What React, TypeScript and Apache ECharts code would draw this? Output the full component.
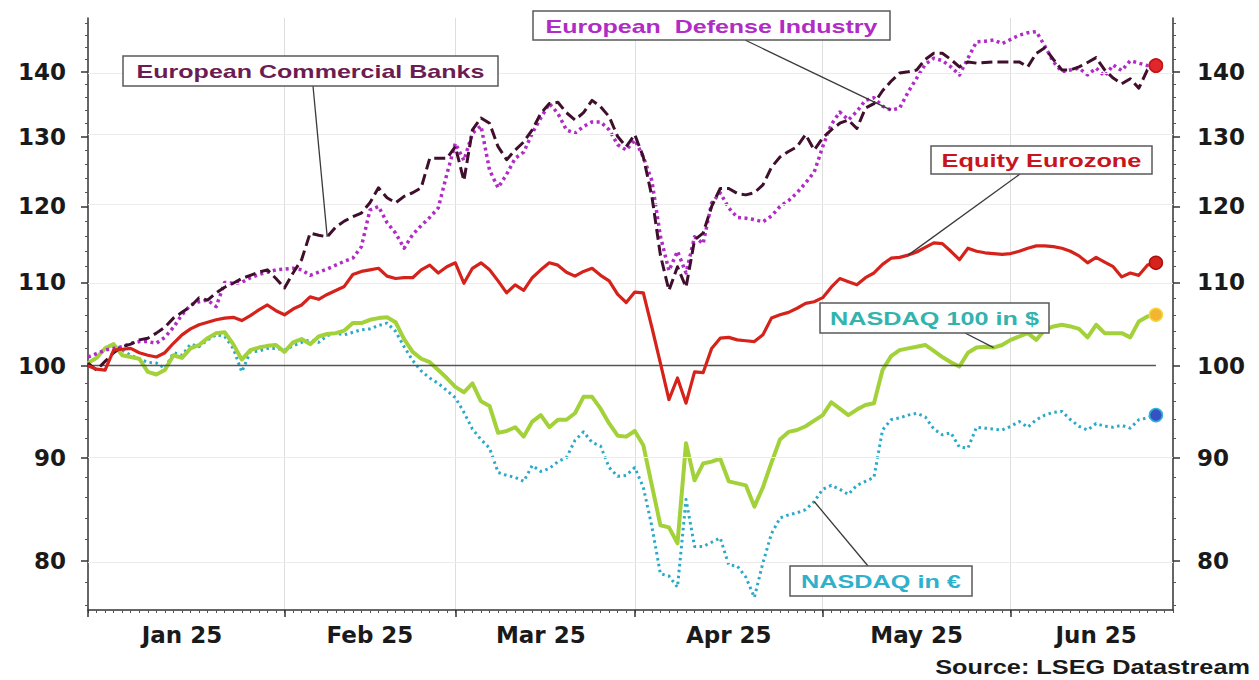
import React, { useEffect, useRef } from "react";
import * as echarts from "echarts";

// ---------- data (index values, Jan 1 2025 = 100) ----------
const banks = [
  100.3, 99.5, 100.5, 101.5, 102.2, 102.5, 103.0, 103.2, 103.8, 104.5,
  105.6, 106.3, 107.0, 108.1, 107.8, 108.7, 109.4, 109.9, 110.5, 110.9,
  111.3, 111.6, 110.5, 109.3, 111.2, 112.9, 116.4, 116.1, 115.9, 117.2,
  118.0, 118.6, 119.1, 120.5, 122.6, 121.2, 120.5, 121.4, 121.9, 122.6,
  126.8, 126.8, 126.8, 128.5, 123.6, 131.0, 132.8, 132.0, 128.5, 126.6,
  128.0, 129.2, 131.0, 133.5, 135.0, 135.2, 133.6, 132.5, 133.6, 135.5,
  134.5, 133.0, 130.0, 128.5, 130.3, 127.0, 121.4, 113.5, 109.0, 112.0,
  109.4, 115.5, 116.4, 120.0, 122.5, 122.5, 121.8, 121.6, 121.9, 123.0,
  125.5, 127.0, 127.8, 128.5, 130.3, 128.0, 129.8, 131.0, 132.0, 132.5,
  131.2, 134.3, 135.0, 137.0, 138.5, 139.8, 140.0, 140.3, 142.0, 143.0,
  143.0, 142.0, 140.8, 141.6, 141.4, 141.5, 141.6, 141.6, 141.6, 141.6,
  140.8, 143.0, 143.9, 142.0, 140.3, 140.3, 140.8, 141.5, 142.3, 140.3,
  139.0, 138.1, 138.9, 137.4, 140.3, 141.0,
];
const defense = [
  101.0, 101.4, 101.8, 102.0, 102.2, 102.6, 102.8, 102.8, 102.6, 103.3,
  104.5, 106.0, 107.2, 107.6, 107.8, 107.0, 110.0, 109.9, 110.0, 110.6,
  111.0, 111.3, 111.6, 111.7, 111.8, 111.6, 110.9, 111.3, 111.7, 112.2,
  112.7, 113.1, 114.6, 119.5, 120.0, 117.8, 116.4, 114.4, 116.2, 117.4,
  118.5, 119.8, 124.5, 129.0, 126.5, 130.5, 131.6, 125.1, 122.6, 124.5,
  126.8, 127.7, 130.5, 132.8, 135.0, 133.5, 131.0, 130.5, 131.5, 132.2,
  132.2, 131.0, 128.8, 128.0, 129.5, 127.0, 123.6, 116.0, 111.5, 114.0,
  111.2, 115.9, 115.0, 120.5, 121.9, 119.8, 118.5, 118.4, 118.2, 117.9,
  118.7, 120.0, 120.8, 121.9, 123.3, 124.8, 128.5, 131.8, 133.7, 132.5,
  133.8, 135.5, 135.9, 134.6, 134.0, 134.3, 136.8, 139.0, 141.2, 142.2,
  141.8, 140.8, 139.5, 142.2, 144.9, 145.0, 145.2, 144.6, 145.3, 146.0,
  146.4, 146.6, 144.2, 141.6, 140.0, 140.3, 140.6, 139.5, 140.6, 139.3,
  141.1, 140.2, 141.8, 141.4, 141.0, 141.0,
];
const equity = [
  100.0, 99.6, 99.5, 101.8, 101.9, 102.0, 101.5, 101.2, 101.0, 101.5,
  102.6, 103.6, 104.3, 104.8, 105.1, 105.4, 105.6, 105.7, 105.3, 105.9,
  106.6, 107.2, 106.5, 106.0, 106.7, 107.2, 108.2, 107.9, 108.5, 109.0,
  109.5, 111.0, 111.4, 111.6, 111.8, 110.8, 110.5, 110.6, 110.6, 111.6,
  112.2, 111.2, 112.0, 112.5, 109.9, 111.8, 112.5, 111.6, 110.2, 108.7,
  109.7, 109.0, 110.6, 111.6, 112.5, 112.2, 111.3, 110.8, 111.4, 111.8,
  110.9, 110.2, 108.5, 107.5, 108.8, 108.7, 104.5, 100.3, 96.2, 98.6,
  95.8, 99.3, 99.2, 102.0, 103.2, 103.3, 103.0, 102.9, 102.8, 103.6,
  105.6, 106.0, 106.3, 106.8, 107.4, 107.6, 108.1, 109.4, 110.5, 110.1,
  109.7, 110.6, 111.2, 112.3, 113.1, 113.2, 113.5, 113.9, 114.5, 115.1,
  115.0, 114.0, 112.9, 114.4, 114.0, 113.8, 113.7, 113.6, 113.7, 114.0,
  114.4, 114.7, 114.7, 114.6, 114.4, 114.0, 113.4, 112.5, 113.2, 112.6,
  112.0, 110.7, 111.2, 110.9, 112.2, 112.5,
];
const nasdaqUsd = [
  100.3, 100.9, 102.0, 102.5, 101.2, 101.0, 100.8, 99.3, 99.0, 99.5,
  101.2, 100.9, 102.0, 102.4, 103.2, 103.8, 103.9, 102.5, 100.7, 101.8,
  102.1, 102.3, 102.4, 101.6, 102.7, 103.1, 102.5, 103.4, 103.7, 103.8,
  104.1, 105.0, 105.0, 105.4, 105.6, 105.7, 105.1, 103.1, 101.6, 100.8,
  100.4, 99.5, 98.6, 97.6, 97.0, 98.0, 96.0, 95.5, 92.6, 92.8,
  93.2, 92.2, 93.8, 94.5, 93.2, 94.0, 94.0, 94.7, 96.5, 96.5,
  95.2, 93.6, 92.3, 92.2, 92.8, 91.3, 87.2, 83.3, 83.1, 81.6,
  91.5, 87.7, 89.4, 89.6, 89.9, 87.6, 87.4, 87.2, 85.1, 87.0,
  89.5, 91.9, 92.7, 92.9, 93.3, 93.9, 94.5, 95.9, 95.2, 94.5,
  95.1, 95.6, 95.8, 99.5, 101.1, 101.8, 102.0, 102.2, 102.4, 101.7,
  101.0, 100.4, 99.9, 101.5, 102.1, 102.2, 102.1, 102.4, 103.0, 103.4,
  103.8, 103.0, 104.2, 104.6, 104.8, 104.6, 104.3, 103.3, 104.8, 103.8,
  103.8, 103.8, 103.3, 105.2, 105.8, 106.0,
];
const nasdaqEur = [
  100.3, 100.9, 102.0, 102.4, 101.8, 101.2, 100.8, 100.4, 100.3, 99.7,
  101.5, 101.2, 102.5, 102.2, 103.0, 103.6, 103.4, 102.0, 99.3, 101.6,
  101.7, 102.0, 102.0, 101.8, 102.3, 102.7, 103.0, 102.7, 103.5, 103.8,
  103.6, 103.9, 104.2, 104.3, 104.7, 105.0, 104.0, 102.2, 100.6, 99.4,
  98.6, 98.0, 97.2, 96.4, 94.8, 93.0, 91.9, 91.0, 88.5, 88.2,
  88.0, 87.6, 89.2, 88.6, 88.9, 89.6, 90.0, 91.8, 92.7, 91.6,
  91.2, 89.0, 88.1, 88.2, 89.0, 87.0, 83.2, 78.8, 78.6, 77.6,
  85.8, 81.3, 81.3, 81.7, 82.1, 79.6, 79.5, 78.5, 76.7, 79.8,
  82.5, 84.0, 84.3, 84.5, 84.8, 85.6, 86.8, 87.2, 86.8, 86.3,
  87.2, 87.6, 88.0, 92.9, 94.0, 94.2, 94.5, 94.7, 94.3, 93.0,
  92.4, 92.6, 91.1, 91.0, 93.2, 93.1, 93.0, 92.9, 93.3, 93.8,
  93.2, 94.0, 94.5, 94.8, 94.9, 94.0, 93.3, 92.9, 93.6, 93.3,
  93.2, 93.4, 93.1, 94.0, 94.2, 94.5,
];

const yTicks = [80, 90, 100, 110, 120, 130, 140];
const yMinorTicks = [
  76, 78, 82, 84, 86, 88, 92, 94, 96, 98, 102, 104, 106, 108, 112, 114, 116, 118,
  122, 124, 126, 128, 132, 134, 136, 138, 142, 144, 146, 148,
];
const yMin = 75.6;
const yMax = 148.9;
const baseLevel = 100;
const monthLabels = ["Jan 25", "Feb 25", "Mar 25", "Apr 25", "May 25", "Jun 25"];
const seriesNames = [
  "European Commercial Banks",
  "European  Defense Industry",
  "Equity Eurozone",
  "NASDAQ 100 in $",
  "NASDAQ in €",
];
const sourceText = "Source: LSEG Datastream";

// business-day categories, Jan 1 2025 .. Jun 27 2025
function businessDays(start: string, end: string): string[] {
  const out: string[] = [];
  const d = new Date(start + "T00:00:00Z");
  const e = new Date(end + "T00:00:00Z");
  while (d <= e) {
    const wd = d.getUTCDay();
    if (wd !== 0 && wd !== 6) out.push(d.toISOString().slice(0, 10));
    d.setUTCDate(d.getUTCDate() + 1);
  }
  return out;
}
const categories = businessDays("2025-01-01", "2025-06-27");

const L = Math.log;

export default function App() {
  const ref = useRef<HTMLDivElement>(null);

  useEffect(() => {
    if (!ref.current) return;
    const chart = echarts.init(ref.current, null, { renderer: "svg" });

    // month starts and mid-month label positions
    const monthStart: number[] = [];
    categories.forEach((c, i) => {
      if (i === 0 || c.slice(5, 7) !== categories[i - 1].slice(5, 7)) monthStart.push(i);
    });
    const labelIdx = monthStart.map((s, k) => {
      const next = k + 1 < monthStart.length ? monthStart[k + 1] : categories.length;
      return Math.floor((s + next) / 2);
    });

    const tickFont = {
      fontFamily: "DejaVu Sans",
      fontWeight: "bold" as const,
      fontSize: 23,
      color: "#1a1a1a",
    };

    const yBase = {
      type: "value" as const,
      min: L(yMin),
      max: L(yMax),
      splitLine: { show: false },
    };
    const majorAxis = (position: "left" | "right", margin: number) => ({
      ...yBase,
      position,
      axisLine: { show: true, lineStyle: { color: "#333", width: 1.5 } },
      axisTick: {
        show: true,
        customValues: yTicks.map(L),
        length: 7,
        lineStyle: { color: "#333", width: 1.5 },
      },
      axisLabel: {
        ...tickFont,
        margin,
        customValues: yTicks.map(L),
        formatter: (v: number) => String(Math.round(Math.exp(v))),
      },
    });
    const minorAxis = (position: "left" | "right") => ({
      ...yBase,
      position,
      axisLine: { show: false },
      axisTick: {
        show: true,
        customValues: yMinorTicks.map(L),
        length: 3,
        lineStyle: { color: "#555", width: 1 },
      },
      axisLabel: { show: false },
    });

    const mk = (
      name: string,
      arr: number[],
      color: string,
      type: any,
      width: number,
      marker: { color: string; border: string } | null,
      z: number
    ) => ({
      name,
      type: "line",
      xAxisIndex: 0,
      yAxisIndex: 0,
      data: arr.map((v, i) =>
        i === arr.length - 1 && marker
          ? {
              value: L(v),
              symbol: "circle",
              symbolSize: 13,
              itemStyle: { color: marker.color, borderColor: marker.border, borderWidth: 1.5 },
            }
          : L(v)
      ),
      symbol: "none",
      showSymbol: true,
      showAllSymbol: true,
      silent: true,
      z,
      lineStyle: { color, width, type, cap: "butt", join: "round" },
      itemStyle: { color },
    });

    const eurSeries: any = mk("NASDAQ in €", nasdaqEur, "#2aa9c9", [2.5, 3.5], 3, { color: "#3552c4", border: "#2fb2d6" }, 2);
    eurSeries.markLine = {
      silent: true,
      symbol: "none",
      label: { show: false },
      data: [
        ...yTicks
          .filter((t) => t !== baseLevel)
          .map((t) => ({ yAxis: L(t), lineStyle: { color: "#ececec", width: 1, type: "solid" } })),
        [
          { coord: [categories[0], L(baseLevel)], lineStyle: { color: "#555", width: 1.3, type: "solid" } },
          { coord: [categories[nasdaqEur.length - 1], L(baseLevel)] },
        ],
      ],
    };

    const option: any = {
      animation: false,
      backgroundColor: "#ffffff",
      grid: { left: 88, right: 86, top: 18, bottom: 70 },
      xAxis: [
        {
          type: "category",
          data: categories,
          boundaryGap: false,
          position: "bottom",
          axisLine: { show: true, lineStyle: { color: "#333", width: 1.5 } },
          axisTick: { show: true, interval: 0, length: 3, lineStyle: { color: "#555", width: 1 } },
          axisLabel: {
            ...tickFont,
            margin: 13,
            interval: (i: number) => labelIdx.includes(i),
            formatter: (v: string) => monthLabels[Number(v.slice(5, 7)) - 1],
          },
          splitLine: {
            show: true,
            interval: (i: number) => monthStart.includes(i) && i > 0,
            lineStyle: { color: "#dedede", width: 1 },
          },
        },
        {
          type: "category",
          data: categories,
          boundaryGap: false,
          position: "bottom",
          axisLine: { show: false },
          axisTick: {
            show: true,
            interval: (i: number) => monthStart.includes(i),
            length: 7,
            lineStyle: { color: "#333", width: 1.5 },
          },
          axisLabel: { show: false },
          splitLine: { show: false },
        },
      ],
      yAxis: [majorAxis("left", 22), minorAxis("left"), majorAxis("right", 24), minorAxis("right")],
      series: [
        eurSeries,
        mk("NASDAQ 100 in $", nasdaqUsd, "#a3d13a", "solid", 4, { color: "#f2b431", border: "#f5d742" }, 3),
        mk("European Defense Industry", defense, "#b02cc4", [3, 3.5], 3.5, { color: "#e3262b", border: "#c01818" }, 4),
        mk("European Commercial Banks", banks, "#3f0f2d", [11, 5], 3, { color: "#e3262b", border: "#c01818" }, 5),
        mk("Equity Eurozone", equity, "#d5221a", "solid", 3.2, { color: "#d8221c", border: "#a81010" }, 6),
      ],
    };
    chart.setOption(option);

    // annotations: callout boxes with leader lines to the series
    const ctx = document.createElement("canvas").getContext("2d");
    const measure = (t: string, font: string) => {
      if (!ctx) return 1;
      ctx.font = font;
      return ctx.measureText(t).width || 1;
    };
    const calloutFont = 'bold 18px "Liberation Sans"';
    const callouts = [
      { text: seriesNames[0], color: "#6b1c52", box: [123, 56, 375, 30], textW: 348, anchor: [313, 86], arr: banks, idx: 28 },
      { text: seriesNames[1], color: "#b02cc4", box: [533, 11, 357, 29], textW: 332, anchor: [745, 40], arr: defense, idx: 94 },
      { text: seriesNames[2], color: "#c8151d", box: [931, 146, 221, 28], textW: 200, anchor: [1020, 174], arr: equity, idx: 96 },
      { text: seriesNames[3], color: "#33b3ad", box: [820, 303, 229, 30], textW: 209, anchor: [965, 333], arr: nasdaqUsd, idx: 106 },
      { text: seriesNames[4], color: "#2fb0cc", box: [790, 566, 182, 30], textW: 160, anchor: [868, 566], arr: nasdaqEur, idx: 85 },
    ];
    const elements: any[] = [];
    callouts.forEach((c) => {
      const p = chart.convertToPixel({ xAxisIndex: 0, yAxisIndex: 0 }, [c.idx, L(c.arr[c.idx])]) as number[];
      elements.push({
        type: "line",
        z: 100,
        silent: true,
        shape: { x1: c.anchor[0], y1: c.anchor[1], x2: p[0], y2: p[1] },
        style: { stroke: "#3a3a3a", lineWidth: 1.3 },
      });
    });
    callouts.forEach((c) => {
      const [bx, by, bw, bh] = c.box;
      elements.push({
        type: "rect",
        z: 101,
        silent: true,
        shape: { x: bx, y: by, width: bw, height: bh },
        style: { fill: "#ffffff", stroke: "#5a5a5a", lineWidth: 1.5 },
      });
      const s = c.textW / measure(c.text, calloutFont);
      elements.push({
        type: "text",
        z: 102,
        silent: true,
        x: bx + bw / 2,
        y: by + bh / 2 + 1,
        scaleX: s,
        style: { text: c.text, fill: c.color, font: calloutFont, align: "center", verticalAlign: "middle" },
      });
    });
    const srcFont = 'bold 20px "Liberation Sans"';
    elements.push({
      type: "text",
      z: 102,
      silent: true,
      x: 1250,
      y: 667,
      scaleX: 315 / measure(sourceText, srcFont),
      style: { text: sourceText, fill: "#1a1a1a", font: srcFont, align: "right", verticalAlign: "middle" },
    });
    chart.setOption({ graphic: elements });

    return () => chart.dispose();
  }, []);

  return (
    <div
      ref={ref}
      style={{ position: "fixed", left: 0, top: 0, width: "1259px", height: "680px", background: "#fff" }}
    />
  );
}
